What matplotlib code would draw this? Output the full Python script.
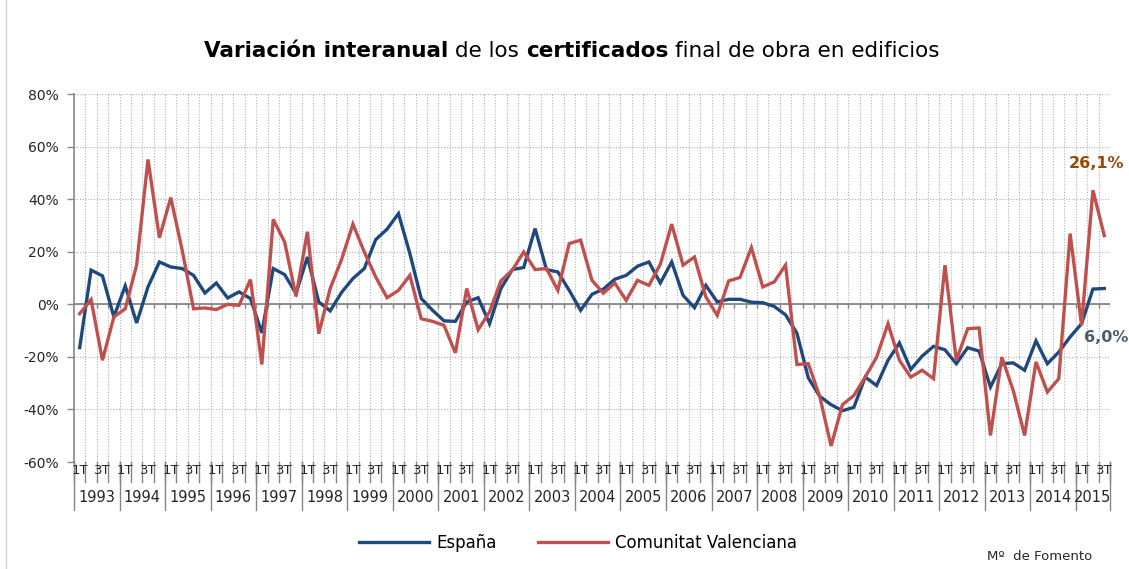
import numpy as np
import matplotlib
matplotlib.use("Agg")
import matplotlib.pyplot as plt
from matplotlib.lines import Line2D

plt.rcParams['font.family'] = ['DejaVu Sans']

# datos trimestrales 1993T1 - 2015T3 (variación interanual, %)
years = [str(y) for y in range(1993, 2016)]
quarters = ['1T', '2T', '3T', '4T']

espana = [
    -16.5, 13.0, 10.8, -4.8,    # 1993
    7.0, -7.1, 6.6, 16.1,       # 1994
    14.2, 13.6, 11.0, 4.3,      # 1995
    8.1, 2.4, 4.7, 2.2,         # 1996
    -10.9, 13.6, 11.3, 4.1,     # 1997
    18.0, 0.9, -2.5, 4.5,       # 1998
    9.8, 13.6, 24.6, 28.6,      # 1999
    34.5, 19.3, 2.2, -2.3,      # 2000
    -6.3, -6.5, 0.9, 2.5,       # 2001
    -7.4, 6.0, 13.2, 14.0,      # 2002
    28.8, 13.2, 12.3, 5.3,      # 2003
    -2.3, 3.8, 5.8, 9.5,        # 2004
    11.0, 14.5, 16.1, 8.1,      # 2005
    16.1, 3.4, -1.3, 7.2,       # 2006
    0.9, 1.9, 1.9, 0.8,         # 2007
    0.6, -0.8, -4.0, -11.0,     # 2008
    -28.0, -35.0, -38.2, -40.5, # 2009
    -39.2, -27.7, -30.9, -21.3, # 2010
    -14.7, -24.8, -19.7, -16.0, # 2011
    -17.3, -22.6, -16.5, -17.8, # 2012
    -31.5, -22.6, -22.3, -25.1, # 2013
    -13.9, -22.6, -18.2, -12.4, # 2014
    -7.4, 5.8, 6.0,             # 2015
]

comunitat = [
    -3.6, 1.8, -21.3, -4.8,     # 1993
    -1.7, 14.9, 55.1, 25.3,     # 1994
    40.6, 20.6, -1.7, -1.4,     # 1995
    -2.0, 0.0, -0.4, 9.4,       # 1996
    -22.9, 32.3, 23.7, 3.0,     # 1997
    27.6, -11.2, 6.0, 17.0,     # 1998
    30.5, 19.9, 10.4, 2.5,      # 1999
    5.3, 11.0, -5.5, -6.5,      # 2000
    -8.0, -18.5, 6.0, -9.7,     # 2001
    -2.9, 8.9, 13.0, 19.9,      # 2002
    13.2, 13.6, 5.3, 23.1,      # 2003
    24.4, 9.1, 4.2, 8.1,        # 2004
    1.5, 9.1, 7.2, 15.2,        # 2005
    30.5, 14.9, 18.0, 2.8,      # 2006
    -4.2, 8.9, 10.2, 21.6,      # 2007
    6.6, 8.5, 14.9, -22.9,      # 2008
    -22.6, -35.0, -53.9, -38.2, # 2009
    -34.7, -27.7, -20.1, -7.4,  # 2010
    -21.3, -27.7, -25.1, -28.3, # 2011
    14.9, -21.3, -9.3, -9.0,    # 2012
    -49.9, -20.1, -32.8, -49.9, # 2013
    -21.9, -33.4, -28.3, 26.9,  # 2014
    -8.0, 43.4, 26.1,           # 2015
]

yticks = list(range(-60, 81, 20))

BLUE = '#1F497D'
RED = '#C0504D'
GRID = '#B0B0B0'
AXC = '#868686'

W, H = 1129, 569
fig = plt.figure(figsize=(W / 100, H / 100), dpi=100)
fig.patch.set_facecolor('white')

# area de trazado en pixeles
L, R, T, B = 74, 1110, 94, 462
ax = fig.add_axes([L / W, (H - B) / H, (R - L) / W, (B - T) / H])

n = len(espana)
x = np.arange(n)
bounds = np.arange(n + 1) - 0.5

ax.set_xlim(-0.5, n - 0.5)
ax.set_ylim(-60, 80)

# rejilla
ax.set_yticks(yticks)
ax.set_yticklabels([f'{v}%' for v in yticks])
ax.yaxis.grid(True, linestyle=(0, (1, 1.5)), color=GRID, lw=0.8)
ax.set_xticks([])
ax.vlines(bounds[1:-1], -60, 80, colors=GRID, linestyles=(0, (1, 1.5)), lw=0.8, zorder=0.5)
ax.set_axisbelow(True)

for s in ['top', 'right', 'bottom']:
    ax.spines[s].set_visible(False)
ax.spines['left'].set_color(AXC)
ax.spines['left'].set_linewidth(1.2)
ax.tick_params(axis='y', direction='out', length=5, color=AXC, width=1,
               labelsize=10, labelcolor='#262626', pad=6)

# eje de categorias en 0
ax.axhline(0, color=AXC, lw=1.3, zorder=1)
ax.vlines(bounds[1:], -1.6, 0, colors=AXC, lw=1, zorder=1)

ax.plot(x, espana, color=BLUE, lw=2.4, zorder=3, solid_joinstyle='miter')
ax.plot(x, comunitat, color=RED, lw=2.4, zorder=4, solid_joinstyle='miter')

# etiquetas multinivel
tr = ax.get_xaxis_transform()
h = B - T
def ay(py):
    return (B - py) / h

for i in range(n):
    q = quarters[i % 4]
    if q in ('1T', '3T'):
        ax.text(i, ay(471), q, transform=tr, ha='center', va='center',
                fontsize=9.5, color='#262626', clip_on=False)
for b in bounds:
    ax.plot([b, b], [ay(462), ay(482)], transform=tr, color=AXC, lw=1, clip_on=False)
for k, yname in enumerate(years):
    start = k * 4 - 0.5
    end = min(k * 4 + 3.5, n - 0.5)
    ax.plot([start, start], [ay(462), ay(510)], transform=tr, color=AXC, lw=1, clip_on=False)
    ax.text((start + end) / 2, ay(497), yname, transform=tr, ha='center', va='center',
            fontsize=10.5, color='#262626', clip_on=False)
ax.plot([n - 0.5, n - 0.5], [ay(462), ay(510)], transform=tr, color=AXC, lw=1, clip_on=False)

# etiquetas de ultimo dato
ax.annotate('26,1%', (n - 1, comunitat[-1]), xytext=(1097, H - 163), textcoords='figure pixels',
            ha='center', va='center', fontsize=11.5, fontweight='bold', color='#984807')
ax.annotate('6,0%', (n - 1, espana[-1]), xytext=(1106, H - 338), textcoords='figure pixels',
            ha='center', va='center', fontsize=11.5, fontweight='bold', color='#4D5D70')

# titulo con partes en negrita
parts = [('Variación interanual', 'bold'), ('de los', 'normal'),
         ('certificados', 'bold'), ('final de obra en edificios', 'normal')]
tsize = 15.5
renderer = fig.canvas.get_renderer()
tmp = fig.text(0, 0, 'a a', fontsize=tsize)
tmp2 = fig.text(0, 0, 'aa', fontsize=tsize)
space = tmp.get_window_extent(renderer).width - tmp2.get_window_extent(renderer).width
tmp.remove()
tmp2.remove()
texts = []
widths = []
for s, wgt in parts:
    t = fig.text(0, 1 - 57 / H, s, fontsize=tsize, fontweight=wgt, color='black', va='baseline')
    texts.append(t)
    widths.append(t.get_window_extent(renderer).width)
total = sum(widths) + space * (len(parts) - 1)
xpos = 572 - total / 2
for t, wd in zip(texts, widths):
    t.set_x(xpos / W)
    xpos += wd + space

# leyenda
handles = [Line2D([], [], color=BLUE, lw=2.4), Line2D([], [], color=RED, lw=2.4)]
fig.legend(handles, ['España', 'Comunitat Valenciana'], loc='center',
           bbox_to_anchor=(578 / W, 1 - 543 / H), ncol=2, frameon=False,
           fontsize=12, handlelength=4.2, columnspacing=2.5, handletextpad=0.4)

fig.text(1040 / W, 1 - 557 / H, 'Mº  de Fomento', ha='center', va='center',
         fontsize=9.5, color='#262626')

# borde del grafico
fig.add_artist(Line2D([6 / W, 6 / W], [0, 1], transform=fig.transFigure, color='#D0D0D0', lw=1))

fig.savefig('out.png', dpi=100)
